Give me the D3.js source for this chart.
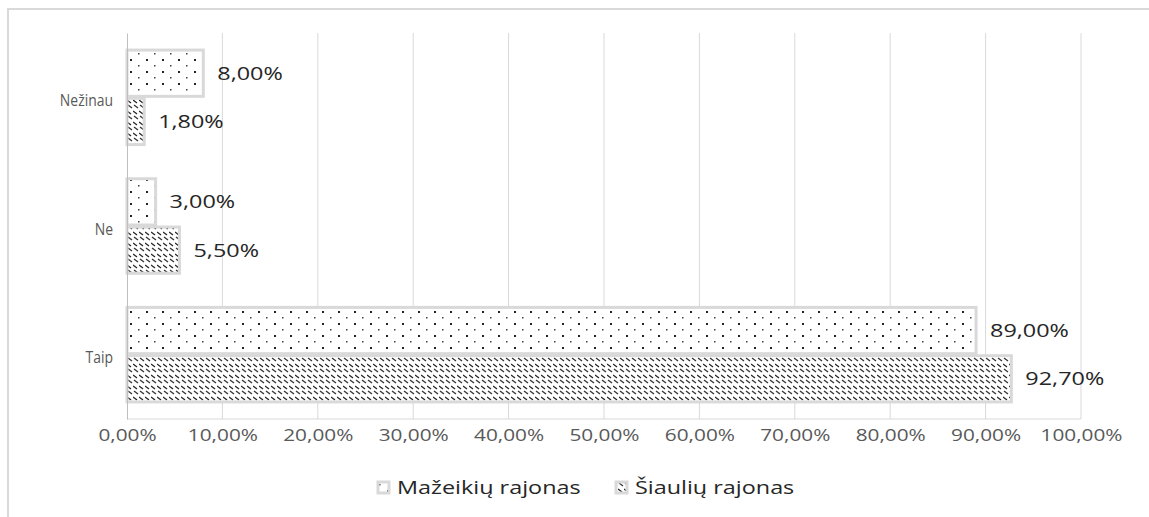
<!DOCTYPE html>
<html>
<head>
<meta charset="utf-8">
<script src="https://cdn.jsdelivr.net/npm/d3@7"></script>
<style>
  body { margin: 0; background: #fff; }
  text { font-family: "Open Sans", sans-serif; }
</style>
</head>
<body>
<div id="chart"></div>
<script>
// categories top to bottom, as in the picture
var categories = ["Nežinau", "Ne", "Taip"];
var seriesNames = ["Mažeikių rajonas", "Šiaulių rajonas"];
var mazeikiai = [8.0, 3.0, 89.0];
var siauliai = [1.8, 5.5, 92.7];
var xTicks = [0, 10, 20, 30, 40, 50, 60, 70, 80, 90, 100];

var W = 1149, H = 517;
var margin = {top: 33, right: 68, bottom: 98, left: 127},
    width = W - margin.left - margin.right,
    height = H - margin.top - margin.bottom;

// the source picture is a little stretched sideways
var stretch = 1.3;

var fmt = function(v) { return v.toFixed(2).replace(".", ",") + "%"; };

var svg = d3.select("#chart").append("svg")
    .attr("width", W)
    .attr("height", H);

// patterns
var defs = svg.append("defs");
var dots = defs.append("pattern")
    .attr("id", "dots")
    .attr("patternUnits", "userSpaceOnUse")
    .attr("width", 16).attr("height", 12);
dots.append("rect").attr("width", 16).attr("height", 12).attr("fill", "#fff");
dots.append("rect").attr("x", 3).attr("y", 2).attr("width", 2).attr("height", 2).attr("fill", "#222");
dots.append("rect").attr("x", 11).attr("y", 8).attr("width", 1.5).attr("height", 1.5).attr("fill", "#444");

var hatch = defs.append("pattern")
    .attr("id", "hatch")
    .attr("patternUnits", "userSpaceOnUse")
    .attr("width", 6).attr("height", 11);
hatch.append("rect").attr("width", 6).attr("height", 11).attr("fill", "#fff");
hatch.append("path").attr("d", "M0,1 L4,4").attr("stroke", "#222").attr("stroke-width", 1.3);
hatch.append("path").attr("d", "M1,6 L5,9").attr("stroke", "#333").attr("stroke-width", 1.3);

// chart border
svg.append("rect")
    .attr("x", 8).attr("y", 9)
    .attr("width", W + 10).attr("height", H + 10)
    .attr("fill", "none")
    .attr("stroke", "#d9d9d9")
    .attr("stroke-width", 2);

var g = svg.append("g")
    .attr("transform", "translate(" + margin.left + "," + margin.top + ")");

var x = d3.scaleLinear().domain([0, 100]).range([0, width]);
var y = d3.scaleBand().domain(categories).range([0, height]).paddingInner(0.25).paddingOuter(0.125);

// gridlines
g.selectAll(".grid")
    .data(xTicks.slice(1))
  .enter().append("line")
    .attr("x1", function(d) { return x(d); })
    .attr("x2", function(d) { return x(d); })
    .attr("y1", 0).attr("y2", height)
    .attr("stroke", "#d9d9d9").attr("stroke-width", 1);

g.append("line")
    .attr("x1", 0).attr("x2", width)
    .attr("y1", height).attr("y2", height)
    .attr("stroke", "#d9d9d9");

// x axis
var xAxis = g.append("g")
    .attr("transform", "translate(0," + height + ")")
    .call(d3.axisBottom(x).tickValues(xTicks).tickFormat(fmt).tickSize(0).tickPadding(11));
xAxis.select(".domain").remove();
xAxis.selectAll("text")
    .attr("fill", "#595959")
    .attr("transform", "scale(" + stretch + ",1)")
    .style("font-size", "16px");

// bars: Mažeikių on top of each pair, Šiaulių below
var rows = [];
categories.forEach(function(c, i) {
  rows.push({cat: c, series: 0, value: mazeikiai[i], fill: "url(#dots)"});
  rows.push({cat: c, series: 1, value: siauliai[i], fill: "url(#hatch)"});
});
var barH = y.bandwidth() / 2;
var barY = function(d) { return y(d.cat) + d.series * barH; };

g.selectAll(".bar")
    .data(rows)
  .enter().append("rect")
    .attr("class", "bar")
    .attr("x", x(0))
    .attr("y", function(d) { return barY(d) + 1; })
    .attr("width", function(d) { return x(d.value); })
    .attr("height", barH - 2)
    .attr("fill", function(d) { return d.fill; })
    .attr("stroke", "#d9d9d9")
    .attr("stroke-width", 3);

g.selectAll(".lbl")
    .data(rows)
  .enter().append("text")
    .attr("transform", function(d) {
      return "translate(" + (x(d.value) + 14) + "," + (barY(d) + barH / 2) + ") scale(" + stretch + ",1)";
    })
    .attr("dy", "0.36em")
    .attr("fill", "#262626")
    .style("font-size", "18px")
    .text(function(d) { return fmt(d.value); });

// y axis
var yAxis = g.append("g")
    .call(d3.axisLeft(y).tickSize(0).tickPadding(0));
yAxis.select(".domain").attr("stroke", "#bfbfbf");
yAxis.selectAll("text")
    .attr("x", 0)
    .attr("dy", "0.5em")
    .attr("transform", "translate(-14,0) scale(0.82,1)")
    .attr("fill", "#595959")
    .style("font-size", "17px");

// legend
var legend = svg.append("g").attr("transform", "translate(0,488)");
var legX = [378, 616];
var legFill = ["url(#dots)", "url(#hatch)"];
seriesNames.forEach(function(s, i) {
  legend.append("rect")
      .attr("x", legX[i]).attr("y", -6)
      .attr("width", 11).attr("height", 11)
      .attr("fill", legFill[i])
      .attr("stroke", "#d9d9d9").attr("stroke-width", 3);
  legend.append("text")
      .attr("transform", "translate(" + (legX[i] + 19) + ",0) scale(" + stretch + ",1)")
      .attr("dy", "0.36em")
      .attr("fill", "#262626")
      .style("font-size", "18px")
      .text(s);
});
</script>
</body>
</html>
